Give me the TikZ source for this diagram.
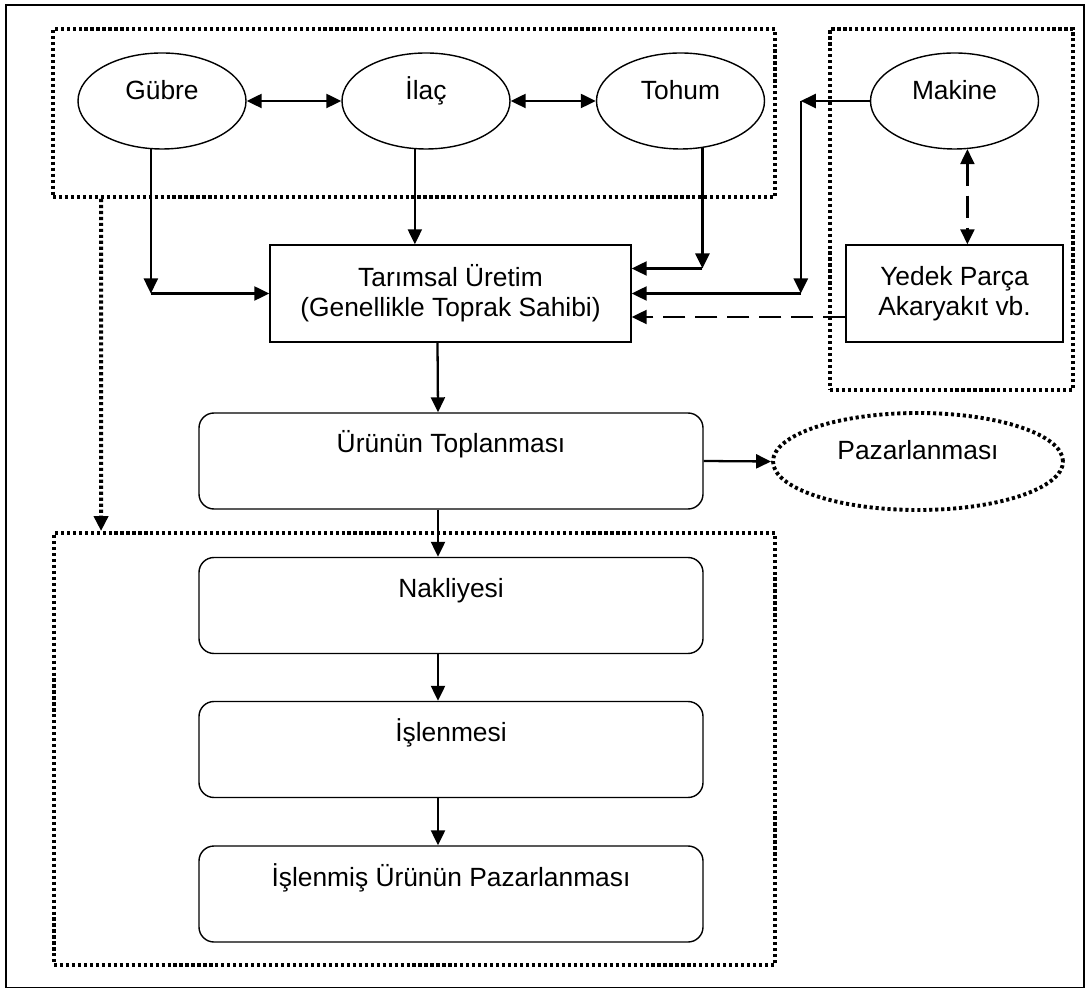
\documentclass[tikz,border=0pt]{standalone}
\usepackage{fontspec}
\setmainfont{Liberation Sans}
\usetikzlibrary{arrows.meta,shapes.geometric}

\begin{document}
\begin{tikzpicture}[font=\fontsize{15pt}{17pt}\selectfont,
  oval/.style={draw,ellipse,line width=0.8pt,minimum width=3.36cm,minimum height=1.92cm,inner sep=0pt,text height=0.4cm,text depth=0.44cm},
  plainbox/.style={draw,rectangle,line width=0.8pt,minimum height=1.94cm,align=center},
  stage/.style={draw,rectangle,rounded corners=0.3cm,line width=0.8pt,minimum width=10.08cm,minimum height=1.92cm,text height=0.4cm,text depth=0.72cm},
  group/.style={draw,rectangle,line width=2.2pt,dash pattern=on 1.8pt off 1.6pt,inner sep=0pt},
  tip/.style={line width=1.3pt,-{Triangle[length=0.3cm,width=0.28cm]}},
  twotip/.style={line width=1.3pt,{Triangle[length=0.3cm,width=0.28cm]}-{Triangle[length=0.3cm,width=0.28cm]}}]
\useasboundingbox (0,0) rectangle (21.72,19.8);
\draw[line width=0.8pt] (0.12,0.05) rectangle (21.68,19.7);
% dotted groups
\node[group,minimum width=14.44cm,minimum height=3.36cm] (topgrp) at (8.28,17.54) {};
\node[group,minimum width=4.86cm,minimum height=7.22cm] (rightgrp) at (19.03,15.61) {};
\node[group,minimum width=14.42cm,minimum height=8.64cm] (lowgrp) at (8.29,4.82) {};
\node[oval] (gubre) at (3.24,17.78) {Gübre};
\node[oval] (ilac) at (8.52,17.78) {İlaç};
\node[oval] (tohum) at (13.61,17.78) {Tohum};
\node[oval] (makine) at (19.09,17.78) {Makine};
\node[plainbox,minimum width=7.22cm] (tarim) at (9.01,13.93) {Tarımsal Üretim\\(Genellikle Toprak Sahibi)};
\node[plainbox,minimum width=4.34cm] (yedek) at (19.09,13.93) {Yedek Parça\\Akaryakıt vb.};
\node[stage] (urun) at (9.02,10.58) {Ürünün Toplanması};
\node[group,ellipse,minimum width=5.8cm,minimum height=1.94cm,text height=0.4cm,text depth=0.46cm] (pazar) at (18.36,10.57) {Pazarlanması};
\node[stage] (nak) at (9.02,7.69) {Nakliyesi};
\node[stage] (isl) at (9.02,4.81) {İşlenmesi};
\node[stage] (ispaz) at (9.02,1.92) {İşlenmiş Ürünün Pazarlanması};
\coordinate (gcorner) at (gubre.-103 |- tarim.west);
\coordinate (tin) at ([yshift=0.5cm]tarim.east);
\coordinate (tcorner) at (tohum.-65 |- tin);
\coordinate (mtop) at ([xshift=-1.38cm]makine.west);
\coordinate (mbot) at (mtop |- tarim.east);
\draw[twotip] (gubre) -- (ilac);
\draw[twotip] (ilac) -- (tohum);
\draw[tip] (gubre.-103) -- (gcorner);
\draw[tip] (gcorner) -- (tarim.west);
\draw[tip] (ilac.-103) -- (ilac.-103 |- tarim.north);
\draw[tip] (tohum.-65) -- (tcorner);
\draw[tip] (tcorner) -- (tin);
\draw[tip] (makine.west) -- (mtop);
\draw[tip] (mtop) -- (mbot);
\draw[tip] (mbot) -- (tarim.east);
\draw[tip,dash pattern=on 0.44cm off 0.2cm] ([yshift=-0.47cm]yedek.west) -- ([yshift=-0.47cm]tarim.east);
\draw[twotip,dash pattern=on 0.44cm off 0.2cm] (makine.-75) -- (makine.-75 |- yedek.north);
\draw[tip] ([xshift=-0.26cm]tarim.south) -- ([xshift=-0.26cm]urun.north);
\draw[tip] (urun.east) -- (pazar.west);
\draw[tip] ([xshift=-0.26cm]urun.south) -- ([xshift=-0.26cm]nak.north);
\draw[tip] ([xshift=-0.26cm]nak.south) -- ([xshift=-0.26cm]isl.north);
\draw[tip] ([xshift=-0.26cm]isl.south) -- ([xshift=-0.26cm]ispaz.north);
\draw[tip,dash pattern=on 1.8pt off 1.6pt,line width=2.2pt] ([xshift=1cm]topgrp.south west) -- ([xshift=0.98cm]lowgrp.north west);
\end{tikzpicture}
\end{document}
